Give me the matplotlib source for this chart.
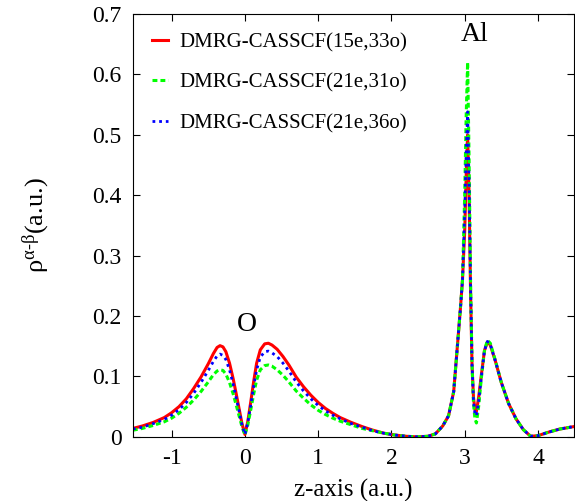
import numpy as np
import matplotlib
matplotlib.use('Agg')
import matplotlib.pyplot as plt

plt.rcParams['font.family'] = 'Liberation Serif'
plt.rcParams['mathtext.fontset'] = 'custom'
plt.rcParams['mathtext.rm'] = 'Liberation Serif'
plt.rcParams['mathtext.it'] = 'Liberation Serif:italic'

# puntos z (a.u.)
z = [-1.53, -1.4, -1.25, -1.1, -1.0, -0.9, -0.8, -0.7, -0.6, -0.5, -0.43, -0.38, -0.34, -0.3,
     -0.26, -0.21, -0.16, -0.12, -0.08, -0.04, 0.0,
     0.04, 0.08, 0.12, 0.16, 0.21, 0.27, 0.32, 0.37, 0.44, 0.52, 0.6, 0.7, 0.8, 0.9, 1.0,
     1.1, 1.2, 1.3, 1.45, 1.6, 1.75, 1.9, 2.05, 2.2, 2.35,
     2.5, 2.6, 2.7, 2.78, 2.85, 2.9, 2.94, 2.97, 3.0, 3.02, 3.04, 3.06, 3.08, 3.1, 3.12,
     3.14, 3.16, 3.19, 3.23, 3.27, 3.31, 3.35, 3.42, 3.5, 3.6, 3.7, 3.8, 3.9, 4.0, 4.15,
     4.3, 4.49]

rho_15e33o = [0.014, 0.018, 0.024, 0.032, 0.040, 0.050, 0.063, 0.080, 0.099, 0.121, 0.138, 0.148, 0.151, 0.149,
              0.141, 0.122, 0.096, 0.072, 0.047, 0.022, 0.004,
              0.026, 0.058, 0.092, 0.122, 0.144, 0.154, 0.155, 0.152, 0.145, 0.133, 0.119, 0.099, 0.083, 0.069, 0.057,
              0.047, 0.039, 0.032, 0.024, 0.017, 0.011, 0.006, 0.003, 0.001, 0.000,
              0.001, 0.005, 0.018, 0.035, 0.075, 0.150, 0.210, 0.260, 0.340, 0.430, 0.500, 0.400, 0.240, 0.120, 0.065,
              0.045, 0.042, 0.065, 0.105, 0.143, 0.157, 0.152, 0.125, 0.090, 0.055, 0.030, 0.012, 0.001, 0.002, 0.008,
              0.013, 0.017]

rho_21e31o = [0.011, 0.014, 0.019, 0.025, 0.031, 0.039, 0.049, 0.061, 0.075, 0.091, 0.103, 0.109, 0.111, 0.110,
              0.104, 0.090, 0.071, 0.053, 0.035, 0.017, 0.003,
              0.020, 0.045, 0.071, 0.094, 0.111, 0.118, 0.119, 0.117, 0.111, 0.102, 0.091, 0.076, 0.064, 0.053, 0.044,
              0.037, 0.031, 0.026, 0.020, 0.014, 0.010, 0.006, 0.003, 0.001, 0.000,
              0.001, 0.005, 0.018, 0.035, 0.075, 0.150, 0.210, 0.260, 0.400, 0.530, 0.620, 0.460, 0.260, 0.120, 0.055,
              0.030, 0.023, 0.050, 0.100, 0.143, 0.160, 0.155, 0.126, 0.090, 0.055, 0.030, 0.012, 0.001, 0.002, 0.008,
              0.013, 0.017]

rho_21e36o = [0.013, 0.016, 0.022, 0.029, 0.036, 0.045, 0.057, 0.072, 0.090, 0.110, 0.125, 0.134, 0.137, 0.135,
              0.128, 0.111, 0.087, 0.065, 0.043, 0.020, 0.004,
              0.024, 0.053, 0.084, 0.111, 0.132, 0.141, 0.142, 0.139, 0.133, 0.122, 0.109, 0.091, 0.076, 0.063, 0.052,
              0.043, 0.036, 0.030, 0.022, 0.016, 0.010, 0.006, 0.003, 0.001, 0.000,
              0.001, 0.005, 0.018, 0.035, 0.075, 0.150, 0.210, 0.260, 0.370, 0.470, 0.538, 0.420, 0.250, 0.120, 0.060,
              0.038, 0.035, 0.058, 0.102, 0.143, 0.158, 0.153, 0.125, 0.090, 0.055, 0.030, 0.012, 0.001, 0.002, 0.008,
              0.013, 0.017]

fig = plt.figure(figsize=(5.75, 5.01), dpi=100)
ax = fig.add_axes([0.231, 0.128, 0.767, 0.844])

ax.plot(z, rho_15e33o, color='#ff0000', lw=2.2, ls='-', label='DMRG-CASSCF(15e,33o)')
ax.plot(z, rho_21e31o, color='#00ff00', lw=2.2, ls=(0, (1.6, 1.0)), label='DMRG-CASSCF(21e,31o)')
ax.plot(z, rho_21e36o, color='#0000ff', lw=2.0, ls=(0, (1, 1.4)), label='DMRG-CASSCF(21e,36o)')

ax.set_xlim(-1.53, 4.49)
ax.set_ylim(0, 0.7)
ax.set_xticks([-1, 0, 1, 2, 3, 4])
ax.set_xticklabels(['-1', '0', '1', '2', '3', '4'])
ax.set_yticks(np.arange(0, 0.71, 0.1))
ax.set_yticklabels(['0', '0.1', '0.2', '0.3', '0.4', '0.5', '0.6', '0.7'])
ax.tick_params(direction='in', top=True, right=True, length=5, labelsize=17, pad=8)

ax.set_xlabel('z-axis (a.u.)', fontsize=18, labelpad=7)
ax.set_ylabel(r'ρ$^{\mathrm{α\text{-}β}}$(a.u.)', fontsize=19, labelpad=30)

ax.text(0.02, 0.165, 'O', fontsize=20, ha='center', va='bottom')
ax.text(3.13, 0.645, 'Al', fontsize=20, ha='center', va='bottom')

ax.legend(loc='upper left', frameon=False, fontsize=15, handlelength=0.8,
          handletextpad=0.55, labelspacing=1.0, borderaxespad=0.5)

plt.savefig('out.png', dpi=100)
